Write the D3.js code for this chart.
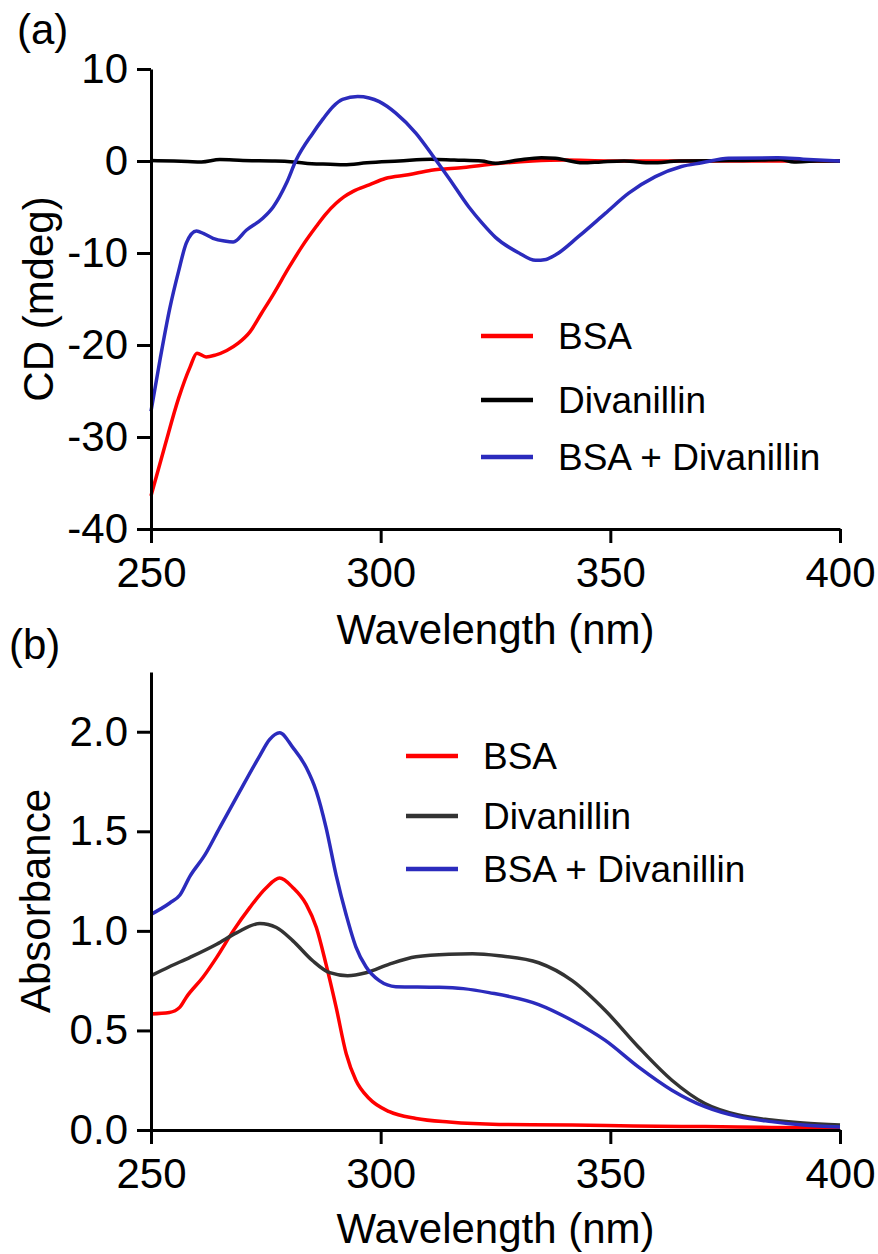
<!DOCTYPE html>
<html>
<head>
<meta charset="utf-8">
<script src="https://cdn.jsdelivr.net/npm/d3@7"></script>
<style>
  body { margin: 0; background: #fff; }
  svg text { font-family: "Liberation Sans", Arial, sans-serif; fill: #000; }
</style>
</head>
<body>
<svg id="chart"></svg>
<script>
const width = 878;
const height = 1254;
const red = "#ff0000";
const blue = "#2b2bbd";

// (a) CD spectra, [wavelength nm, mdeg]
const cdBSA = [[250,-36.4],[253,-31],[256,-25.8],[258.5,-22.4],[260,-20.9],[262,-21.3],[264,-21.1],[266.5,-20.6],[269,-19.8],[271.5,-18.6],[274,-16.6],[276.5,-14.6],[280,-11.6],[283,-9.2],[286,-7.1],[288,-5.8],[290.3,-4.6],[292,-3.9],[294,-3.3],[297.5,-2.6],[301,-1.9],[306,-1.5],[311,-1.0],[318,-0.7],[325,-0.3],[333,0],[340,0.1],[350,0],[360,0],[370,0],[380,0],[390,0],[400,0]];
const cdDiv = [[250,0.05],[255,0],[258,-0.05],[261,-0.1],[265,0.15],[270,0.05],[277,0],[281,-0.1],[285,-0.3],[289,-0.35],[292,-0.4],[297,-0.2],[304,0],[311,0.2],[316,0.1],[322,0],[325,-0.25],[330,0.1],[335,0.35],[338,0.3],[344,-0.2],[348,-0.1],[353,0],[359,-0.2],[365,0],[376,0.05],[383,0.1],[387,0.15],[390,-0.1],[395,0],[400,0]];
const cdMix = [[250,-27.2],[252,-21.5],[254.1,-16],[256,-12],[257.7,-8.9],[259.9,-7.6],[261.5,-7.9],[263.5,-8.4],[266,-8.7],[267.9,-8.8],[270.8,-7.5],[274.4,-6.2],[276.6,-5.0],[279.5,-2.4],[281.6,0.1],[285.2,3.0],[287.5,4.6],[289.6,5.9],[291.7,6.7],[295,7.0],[297.5,6.85],[299.7,6.45],[303.3,5.2],[307.7,3.0],[311.3,0.6],[314.9,-1.9],[319.2,-5.0],[322,-6.7],[325,-8.3],[330.1,-10.0],[333.7,-10.8],[336,-10.7],[338.1,-10.2],[343.1,-8.2],[348.9,-5.7],[354,-3.5],[359.8,-1.7],[365.5,-0.6],[369.9,-0.2],[375.7,0.3],[386.5,0.35],[392,0.2],[400,0]];

// (b) UV-vis absorbance, [wavelength nm, absorbance]
const absBSA = [[250,0.583],[254,0.59],[256.3,0.617],[257.7,0.667],[261.3,0.767],[264.3,0.867],[267.9,1.0],[271.5,1.117],[275.1,1.217],[278,1.265],[280.9,1.217],[283.8,1.133],[286,1.017],[288.1,0.833],[290.3,0.617],[292.5,0.383],[294.6,0.25],[297.5,0.158],[301.9,0.092],[307.7,0.058],[314.9,0.04],[325.8,0.028],[341.7,0.025],[355,0.02],[370.6,0.017],[385,0.013],[400,0.01]];
const absDiv = [[250,0.775],[254,0.82],[258.5,0.867],[264.3,0.933],[268.6,0.99],[273.7,1.037],[277.3,1.017],[280.9,0.95],[285.2,0.85],[288.9,0.79],[292.8,0.775],[296.8,0.79],[301.9,0.833],[307.7,0.87],[314.9,0.883],[320,0.885],[325.8,0.875],[334.4,0.84],[341.7,0.75],[348.9,0.60],[356.1,0.417],[363.4,0.25],[370.6,0.133],[377.9,0.075],[385.1,0.05],[392,0.035],[400,0.025]];
const absMix = [[250,1.083],[254.1,1.14],[256.3,1.18],[258.5,1.275],[261.7,1.38],[265,1.52],[268.6,1.67],[273.7,1.88],[275.8,1.96],[278,1.995],[280.9,1.92],[283.8,1.82],[286,1.70],[288.1,1.52],[290.3,1.28],[292.5,1.08],[294.6,0.92],[296.8,0.82],[299.7,0.75],[303.3,0.72],[312.7,0.717],[318,0.71],[323.6,0.69],[334.4,0.63],[341.7,0.55],[348.9,0.45],[356.1,0.317],[363.4,0.20],[370.6,0.117],[377.9,0.067],[385.1,0.042],[392,0.025],[400,0.015]];

const xTicks = [250, 300, 350, 400];
const cdTicks = [10, 0, -10, -20, -30, -40];
const absTicks = [0.0, 0.5, 1.0, 1.5, 2.0];
const legendNames = ["BSA", "Divanillin", "BSA + Divanillin"];

const svg = d3.select("#chart")
    .attr("width", width)
    .attr("height", height)
    .attr("viewBox", [0, 0, width, height]);

function panel(opts) {
    const x = d3.scaleLinear().domain([250, 400]).range([151, 840]);
    const y = d3.scaleLinear().domain(opts.yDomain).range(opts.yRange);
    const g = svg.append("g");

    const line = d3.line()
        .x(d => x(d[0]))
        .y(d => y(d[1]))
        .curve(d3.curveMonotoneX);

    g.selectAll("path.series")
        .data(opts.series)
        .enter().append("path")
            .attr("class", "series")
            .attr("fill", "none")
            .attr("stroke", d => d.color)
            .attr("stroke-width", 3.5)
            .attr("stroke-linejoin", "round")
            .attr("d", d => line(d.values));

    const xAxis = g.append("g")
        .attr("transform", "translate(0," + y.range()[0] + ")")
        .call(d3.axisBottom(x).tickValues(xTicks).tickSize(14).tickSizeOuter(0).tickPadding(14));
    const yAxis = g.append("g")
        .attr("transform", "translate(151,0)")
        .call(d3.axisLeft(y).tickValues(opts.yTicks).tickFormat(opts.yFormat)
            .tickSize(14).tickSizeOuter(0).tickPadding(9));

    [xAxis, yAxis].forEach(a => {
        a.selectAll("path, line").attr("stroke", "#000").attr("stroke-width", 3);
        a.selectAll("text").attr("font-size", 42).attr("fill", "#000");
        a.attr("font-family", null);
    });

    g.append("text")
        .attr("x", 495.5)
        .attr("y", opts.xLabelY)
        .attr("text-anchor", "middle")
        .attr("font-size", 42)
        .text("Wavelength (nm)");

    g.append("text")
        .attr("transform", "translate(" + opts.yLabelX + "," + opts.yLabelCy + ") rotate(-90)")
        .attr("text-anchor", "middle")
        .attr("font-size", 42)
        .text(opts.yLabel);

    g.append("text")
        .attr("x", opts.tagX)
        .attr("y", opts.tagY)
        .attr("font-size", 42)
        .text(opts.tag);

    // legend
    const leg = g.append("g").selectAll("g")
        .data(opts.series)
        .enter().append("g")
            .attr("transform", (d, i) => "translate(0," + opts.legendY[i] + ")");
    leg.append("line")
        .attr("x1", opts.legendX)
        .attr("x2", opts.legendX + 52)
        .attr("stroke", d => d.color)
        .attr("stroke-width", 4.5);
    leg.append("text")
        .attr("x", opts.legendX + 77)
        .attr("y", 13)
        .attr("font-size", 37)
        .text(d => d.name);
}

panel({
    yDomain: [-40, 10],
    yRange: [529, 69],
    yTicks: cdTicks,
    yFormat: d => String(d),
    yLabel: "CD (mdeg)",
    yLabelX: 53,
    yLabelCy: 299,
    xLabelY: 644,
    tag: "(a)",
    tagX: 17,
    tagY: 44,
    legendX: 481,
    legendY: [336, 400, 457],
    series: [
        { name: legendNames[0], color: red, values: cdBSA },
        { name: legendNames[1], color: "#000", values: cdDiv },
        { name: legendNames[2], color: blue, values: cdMix }
    ]
});

panel({
    yDomain: [0, 2.3],
    yRange: [1130, 672],
    yTicks: absTicks,
    yFormat: d => d.toFixed(1),
    yLabel: "Absorbance",
    yLabelX: 50,
    yLabelCy: 901,
    xLabelY: 1243,
    tag: "(b)",
    tagX: 9,
    tagY: 659,
    legendX: 406,
    legendY: [756, 816, 869],
    series: [
        { name: legendNames[0], color: red, values: absBSA },
        { name: legendNames[1], color: "#333", values: absDiv },
        { name: legendNames[2], color: blue, values: absMix }
    ]
});
</script>
</body>
</html>
